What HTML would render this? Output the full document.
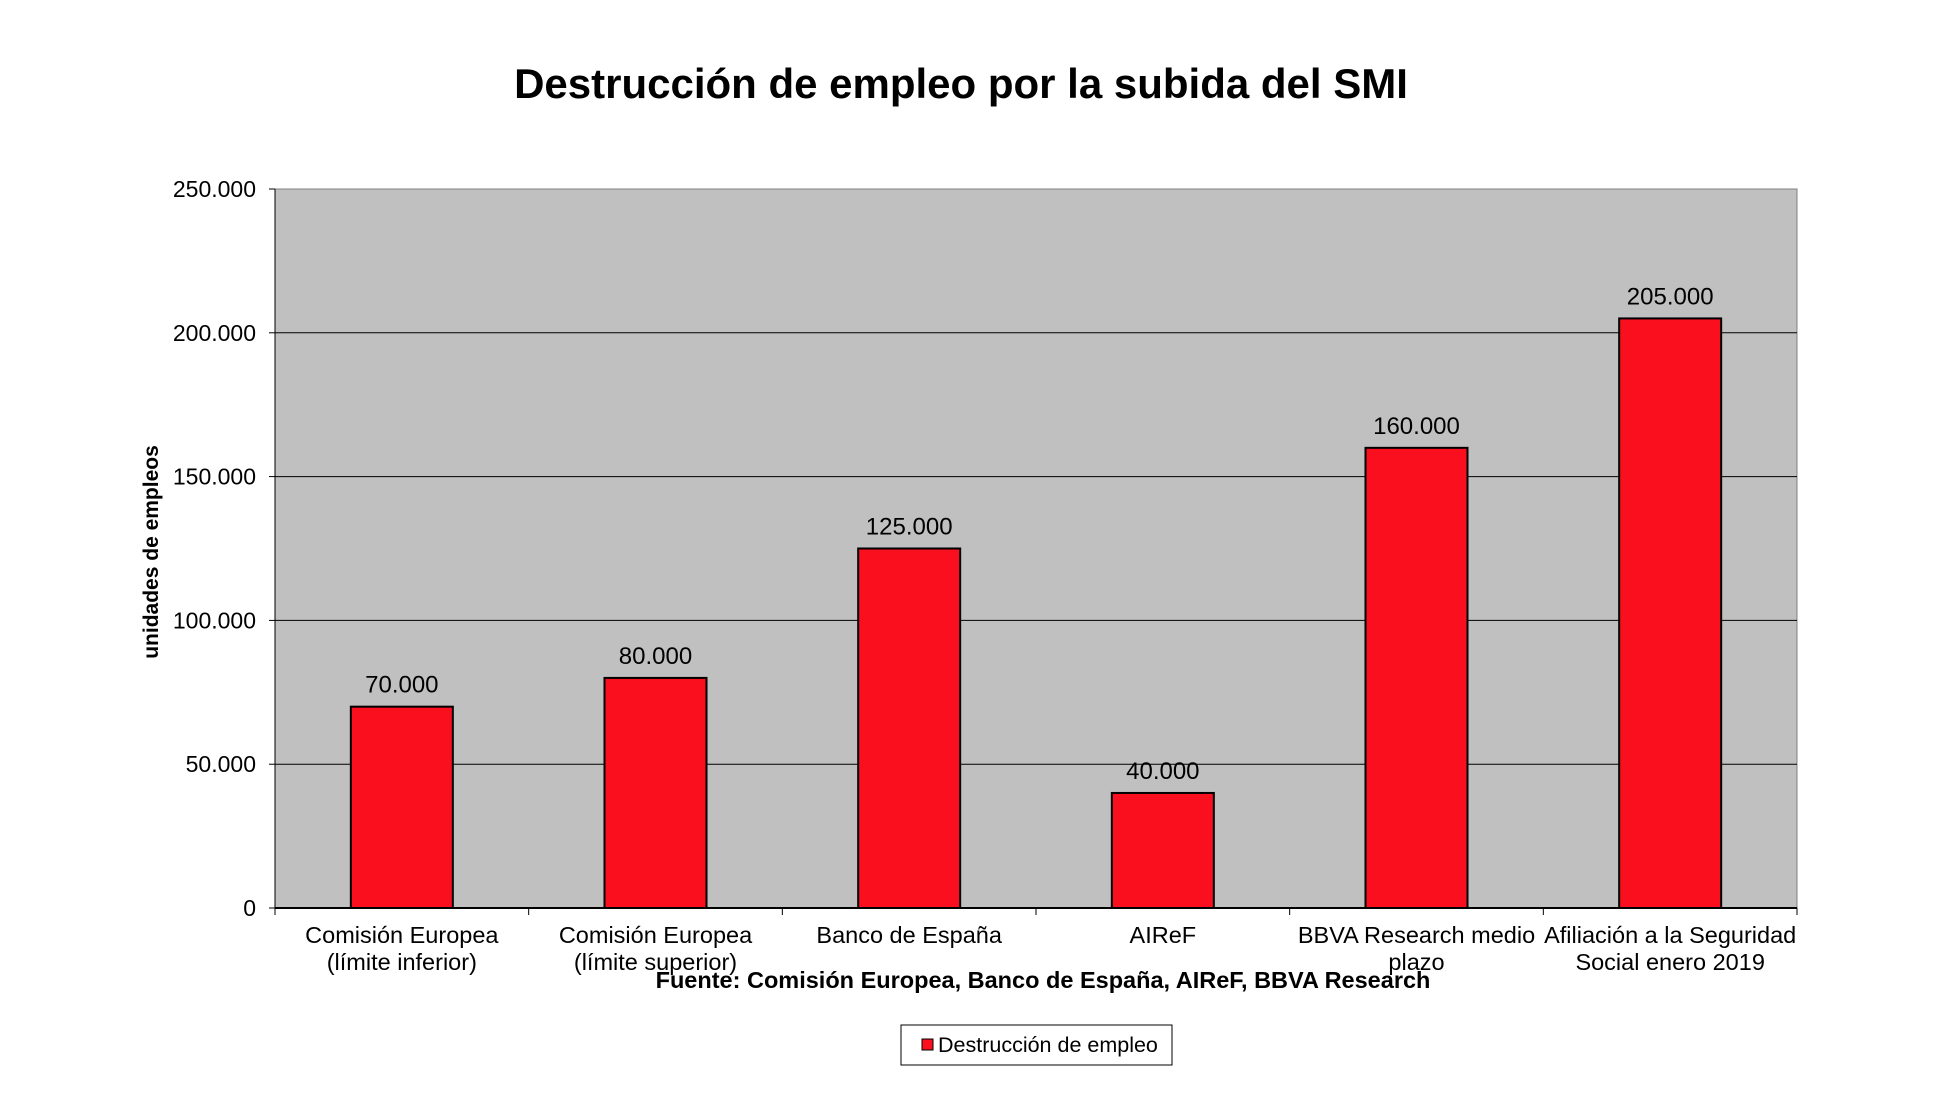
<!DOCTYPE html>
<html><head><meta charset="utf-8"><style>
body{margin:0;background:#fff;font-family:"Liberation Sans",Arial,sans-serif}
svg text{font-family:"Liberation Sans",Arial,sans-serif}
</style></head><body>
<svg id="c" width="1944" height="1088">
<text x="961" y="98" text-anchor="middle" font-size="42" font-weight="bold">Destrucción de empleo por la subida del SMI</text>
<rect x="275" y="189" width="1522" height="719" fill="#c0c0c0" stroke="#808080"/>
<g id="grid"></g><g id="bars"></g><g id="xl"></g>
<text transform="translate(158,552) rotate(-90)" text-anchor="middle" font-size="21" font-weight="bold">unidades de empleos</text>
<text x="1043" y="988" text-anchor="middle" font-size="23.5" font-weight="bold">Fuente: Comisión Europea, Banco de España, AIReF, BBVA Research</text>
<g>
<rect x="901" y="1025" width="271" height="40" fill="#fff" stroke="#000"/>
<rect x="922" y="1039" width="11" height="11" fill="#fa0f1e" stroke="#000"/>
<text x="938" y="1052" font-size="21.5">Destrucción de empleo</text>
</g>
</svg>
<script>
const categories=[["Comisión Europea","(límite inferior)"],["Comisión Europea","(límite superior)"],["Banco de España",""],["AIReF",""],["BBVA Research medio","plazo"],["Afiliación a la Seguridad","Social enero 2019"]];
const values=[70000,80000,125000,40000,160000,205000];
const valueLabels=["70.000","80.000","125.000","40.000","160.000","205.000"];
const yTicks=[0,50000,100000,150000,200000,250000];
const yTickLabels=["0","50.000","100.000","150.000","200.000","250.000"];
const NS="http://www.w3.org/2000/svg";
const L=275,R=1797,T=189,B=908,MAX=250000;
const y=v=>B-(v/MAX)*(B-T);
const bw=(R-L)/categories.length;
const x=i=>L+bw*(i+0.5);
function mk(tag,a,p){const e=document.createElementNS(NS,tag);for(const k in a)e.setAttribute(k,a[k]);p.appendChild(e);return e;}
const grid=document.getElementById('grid'),bars=document.getElementById('bars'),xl=document.getElementById('xl');
yTicks.forEach((t,i)=>{
 if(t>0&&t<MAX){const g=mk('line',{x1:L,x2:R,y1:y(t),y2:y(t),stroke:'#000','stroke-width':1},grid);
 
 }
 const tk=mk('line',{x1:L-6,x2:L,y1:y(t),y2:y(t),stroke:'#000'},grid);
 const tx=mk('text',{x:L-19,y:y(t)+8,'text-anchor':'end','font-size':23},grid);tx.textContent=yTickLabels[i];
 
 
});
mk('line',{x1:L,x2:L,y1:T,y2:B,stroke:'#000'},grid);
mk('line',{x1:L,x2:R,y1:B,y2:B,stroke:'#000','stroke-width':2},grid);
for(let i=0;i<=categories.length;i++)mk('line',{x1:L+bw*i,x2:L+bw*i,y1:B,y2:B+7,stroke:'#000'},grid);
values.forEach((v,i)=>{
 const r=mk('rect',{x:x(i)-51,y:y(v),width:102,height:B-y(v),fill:'#fa0f1e',stroke:'#000','stroke-width':2},bars);
 
 
 const t=mk('text',{x:x(i),y:y(v)-14,'text-anchor':'middle','font-size':24},bars);t.textContent=valueLabels[i];
 
 
 categories[i].forEach((s,j)=>{if(!s)return;const c=mk('text',{x:x(i),y:943+j*27,'text-anchor':'middle','font-size':23.5},xl);c.textContent=s;
 
 });
});
</script>
</body></html>
